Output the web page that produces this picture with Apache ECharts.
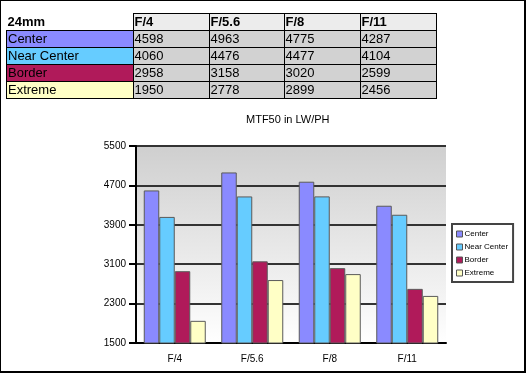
<!DOCTYPE html>
<html>
<head>
<meta charset="utf-8">
<script src="https://cdn.jsdelivr.net/npm/echarts@6/dist/echarts.min.js"></script>
<style>
html,body{margin:0;padding:0;background:#fff;}
#frame{position:absolute;left:0;top:0;width:523px;height:370px;border-left:1px solid #000;border-top:1px solid #000;border-right:2px solid #000;border-bottom:2px solid #000;}
#chart{position:absolute;left:0;top:0;width:527px;height:374px;}
#tbl{position:absolute;left:6px;top:13px;border-collapse:collapse;font-family:"Liberation Sans",Arial,sans-serif;font-size:13px;color:#000;}
#tbl td{border:1px solid #000;padding:0 1px;height:16px;line-height:16px;white-space:nowrap;overflow:hidden;}
#tbl td.corner{border:none;border-bottom:1px solid #000;font-weight:bold;}
#tbl td.hdr{background:#ececec;font-weight:bold;}
#tbl td.val{background:#d2d2d2;}
</style>
</head>
<body>
<div id="chart"></div>
<table id="tbl"></table>
<div id="frame"></div>
<script>
var tableTitle = '24mm';
var categories = ['F/4', 'F/5.6', 'F/8', 'F/11'];
var seriesNames = ['Center', 'Near Center', 'Border', 'Extreme'];
var centerValues = [4598, 4963, 4775, 4287];
var nearCenterValues = [4060, 4476, 4477, 4104];
var borderValues = [2958, 3158, 3020, 2599];
var extremeValues = [1950, 2778, 2899, 2456];
var yTicks = [1500, 2300, 3100, 3900, 4700, 5500];
var chartTitle = 'MTF50 in LW/PH';

var colors = ['#8a8aff', '#66ccff', '#b01a5a', '#ffffc6'];
var allValues = [centerValues, nearCenterValues, borderValues, extremeValues];
var colWidths = [124, 73, 72, 73, 73];

// table
var tbl = document.getElementById('tbl');
var html = '<tr><td class="corner" style="width:' + colWidths[0] + 'px">' + tableTitle + '</td>';
categories.forEach(function (c, i) { html += '<td class="hdr" style="width:' + colWidths[i + 1] + 'px">' + c + '</td>'; });
html += '</tr>';
seriesNames.forEach(function (n, si) {
  html += '<tr><td style="background:' + colors[si] + '">' + n + '</td>';
  allValues[si].forEach(function (v) { html += '<td class="val">' + v + '</td>'; });
  html += '</tr>';
});
tbl.innerHTML = html;

var chart = echarts.init(document.getElementById('chart'));
var font = '"Liberation Sans", Arial, sans-serif';
chart.setOption({
  animation: false,
  title: {
    text: chartTitle, left: 246, top: 114, padding: 0,
    textStyle: { fontFamily: font, fontSize: 11, fontWeight: 'normal', color: '#000' }
  },
  grid: {
    left: 136, right: 81, top: 146, bottom: 31, show: true, borderWidth: 0,
    backgroundColor: new echarts.graphic.LinearGradient(0, 0, 0, 1, [
      { offset: 0, color: '#cfcfcf' }, { offset: 1, color: '#ffffff' }
    ])
  },
  legend: {
    orient: 'vertical', left: 452, top: 224,
    padding: [6, 5, 5, 4], itemGap: 5, itemWidth: 6, itemHeight: 6,
    borderColor: '#444', borderWidth: 2, backgroundColor: '#fff',
    icon: 'rect',
    textStyle: { fontFamily: font, fontSize: 8, color: '#000', padding: [0, 0, 0, -3] },
    data: seriesNames.map(function (n) { return { name: n, itemStyle: { borderColor: '#555', borderWidth: 1 } }; })
  },
  xAxis: {
    type: 'category', data: categories,
    axisLine: { lineStyle: { color: '#000', width: 2 } },
    axisTick: { length: 6, lineStyle: { color: '#000', width: 2 } },
    axisLabel: { fontFamily: font, fontSize: 10, color: '#000', margin: 11 }
  },
  yAxis: {
    type: 'value', min: yTicks[0], max: yTicks[yTicks.length - 1], interval: yTicks[1] - yTicks[0],
    axisLine: { show: true, lineStyle: { color: '#000', width: 2 } },
    axisTick: { show: true, length: 7, lineStyle: { color: '#000', width: 2 } },
    axisLabel: { fontFamily: font, fontSize: 10, color: '#000', margin: 10, formatter: function (v) { return String(v); } },
    splitLine: { show: true, lineStyle: { color: '#333', width: 2 } }
  },
  series: seriesNames.map(function (n, i) {
    return {
      name: n, type: 'bar', data: allValues[i],
      barGap: '0%', barCategoryGap: '20%',
      itemStyle: { color: colors[i], borderColor: '#5a5a5a', borderWidth: 1 }
    };
  })
});
</script>
</body>
</html>
